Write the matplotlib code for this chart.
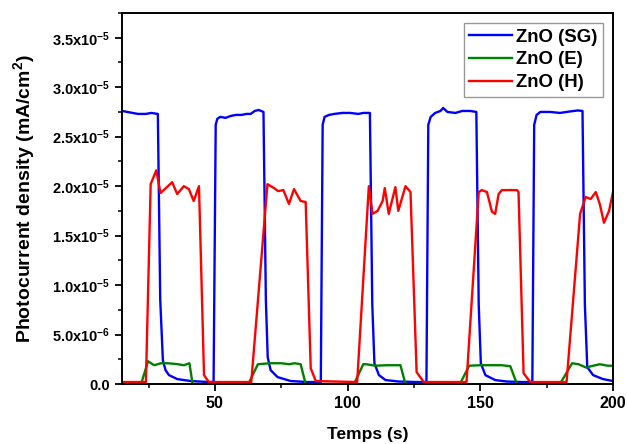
import numpy as np
import matplotlib
matplotlib.use("Agg")
import matplotlib.pyplot as plt
from matplotlib.ticker import MultipleLocator, FuncFormatter

plt.rcParams['font.family'] = ['Liberation Sans', 'DejaVu Sans']
plt.rcParams['font.weight'] = 'bold'
plt.rcParams['mathtext.fontset'] = 'custom'
plt.rcParams['mathtext.rm'] = 'Liberation Sans:bold'
plt.rcParams['mathtext.bf'] = 'Liberation Sans:bold'
plt.rcParams['mathtext.default'] = 'bf'

# photocurrent traces, values in units of 1e-5 mA/cm2
t_sg = [15, 17, 19, 21, 24, 26, 28.5,
        29.4, 30.4, 31.4, 32.7, 35.8, 40.9, 47.7, 49.5,
        50.3, 50.9, 52, 54, 56, 58, 60, 62, 63.5, 65, 66.5, 68.3,
        69.2, 69.9, 71, 73.6, 78.6, 84.8, 89.9,
        90.6, 91.3, 93, 95, 98, 101, 104, 106, 108.4,
        109.3, 110.1, 111.8, 114.3, 119.3, 126, 129.7,
        130.4, 131.3, 133, 135, 136, 137.6, 140.6, 143.2, 146.2, 148.5,
        149.4, 150.2, 151.9, 155.6, 160, 166, 169.6,
        170.3, 171.2, 172.6, 176.3, 180, 183.8, 186.8, 188.5,
        189.4, 190.3, 192.5, 196.2, 200]
i_sg = [2.76, 2.75, 2.74, 2.73, 2.73, 2.74, 2.73,
        0.85, 0.24, 0.14, 0.09, 0.05, 0.03, 0.02, 0.02,
        2.62, 2.68, 2.70, 2.69, 2.71, 2.72, 2.72, 2.73, 2.73, 2.76, 2.77, 2.75,
        0.85, 0.27, 0.14, 0.07, 0.03, 0.02, 0.02,
        2.62, 2.70, 2.72, 2.73, 2.74, 2.74, 2.73, 2.74, 2.74,
        0.80, 0.21, 0.09, 0.04, 0.025, 0.02, 0.02,
        2.62, 2.70, 2.74, 2.76, 2.79, 2.75, 2.74, 2.76, 2.76, 2.75,
        0.80, 0.21, 0.09, 0.04, 0.025, 0.02, 0.02,
        2.62, 2.72, 2.75, 2.75, 2.74, 2.755, 2.765, 2.76,
        0.80, 0.17, 0.09, 0.05, 0.03]

t_e = [15, 22.2, 24.8, 27.1, 29.7, 32.3, 36.1, 38.3, 40.4, 41.6,
       62.6, 66.2, 71, 75, 78, 80, 82.3, 84.2,
       102.4, 105.9, 107, 110.5, 114.9, 119.9, 121.8,
       142.3, 145.8, 150, 155, 158, 161.3, 163.8,
       180, 184.6, 187, 190, 191, 195, 198, 200]
i_e = [0, 0, 0.23, 0.19, 0.21, 0.21, 0.20, 0.19, 0.21, 0,
       0, 0.20, 0.21, 0.21, 0.20, 0.21, 0.20, 0,
       0, 0.20, 0.20, 0.185, 0.19, 0.19, 0,
       0, 0.185, 0.19, 0.19, 0.19, 0.18, 0,
       0, 0.21, 0.20, 0.165, 0.175, 0.20, 0.185, 0.185]

t_h = [15, 24.0, 25.8, 27.9, 29.5, 33.9, 35.8, 38.3, 40.2, 42.0, 44.0, 45.9, 47.7,
       63.7, 69.8, 72.3, 73.8, 75.8, 77.9, 79.8, 82.3, 84.2, 86.1, 88,
       103.6, 108.0, 109.4, 111.3, 113.2, 114.0, 115.5, 118.0, 119.1, 121.8, 123.7, 126.0, 128.7,
       144.8, 149.4, 150.6, 152.5, 154.4, 155.6, 156.9, 158.1, 163.8, 164.4, 166.3, 168.8,
       182.5, 187.6, 189.7, 191.6, 193.5, 195, 196.6, 198.5, 200]
i_h = [0.02, 0.02, 2.02, 2.16, 1.93, 2.04, 1.92, 2.0, 1.97, 1.85, 2.0, 0.09, 0.02,
       0.02, 2.02, 1.98, 1.95, 1.96, 1.82, 1.97, 1.85, 1.84, 0.16, 0.03,
       0.02, 2.0, 1.72, 1.75, 1.85, 1.98, 1.72, 1.99, 1.75, 2.0, 1.94, 0.12, 0.02,
       0.02, 1.94, 1.96, 1.94, 1.74, 1.72, 1.92, 1.96, 1.96, 1.94, 0.11, 0.02,
       0.02, 1.72, 1.89, 1.87, 1.94, 1.82, 1.63, 1.75, 1.94]

scale = 1e-5

fig = plt.figure(figsize=(6.27, 4.44), dpi=100)
ax = fig.add_axes([0.1946, 0.1351, 0.7831, 0.8356])

ax.plot(t_sg, np.array(i_sg) * scale, color='#0000ff', lw=1.7, label='ZnO (SG)')
ax.plot(t_e, np.array(i_e) * scale, color='#008000', lw=1.7, label='ZnO (E)')
ax.plot(t_h, np.array(i_h) * scale, color='#ff0000', lw=1.7, label='ZnO (H)')

ax.set_xlim(15, 200)
ax.set_ylim(0, 3.75e-5)
ax.xaxis.set_major_locator(MultipleLocator(50))
ax.xaxis.set_minor_locator(MultipleLocator(25))
ax.yaxis.set_major_locator(MultipleLocator(5e-6))
ax.yaxis.set_minor_locator(MultipleLocator(2.5e-6))


def sci_fmt(v, pos):
    if abs(v) < 1e-12:
        return '0.0'
    exp = int(np.floor(np.log10(abs(v))))
    mant = v / 10 ** exp
    return f'{mant:.1f}x10$^{{{exp}}}$'


ax.yaxis.set_major_formatter(FuncFormatter(sci_fmt))
ax.tick_params(which='major', direction='out', length=5, width=1.3)
ax.tick_params(which='minor', direction='out', length=3, width=1.1)
ax.tick_params(axis='y', labelsize=10.5)
ax.tick_params(axis='x', labelsize=11.5)
for lbl in ax.get_xticklabels() + ax.get_yticklabels():
    lbl.set_fontweight('bold')
for sp in ax.spines.values():
    sp.set_linewidth(1.4)

ax.set_xlabel('Temps (s)', fontsize=12.5, fontweight='bold', labelpad=12)
ax.set_ylabel('Photocurrent density (mA/cm$^2$)', fontsize=14, fontweight='bold', labelpad=11)

leg = ax.legend(loc='upper right', fontsize=13.4, frameon=True, fancybox=False,
                edgecolor='#808080', handlelength=2.3, handletextpad=0.2,
                labelspacing=0.3, borderpad=0.3, borderaxespad=0.55)
leg.get_frame().set_linewidth(1.0)
for txt in leg.get_texts():
    txt.set_fontweight('bold')

plt.savefig('out.png', dpi=100)
